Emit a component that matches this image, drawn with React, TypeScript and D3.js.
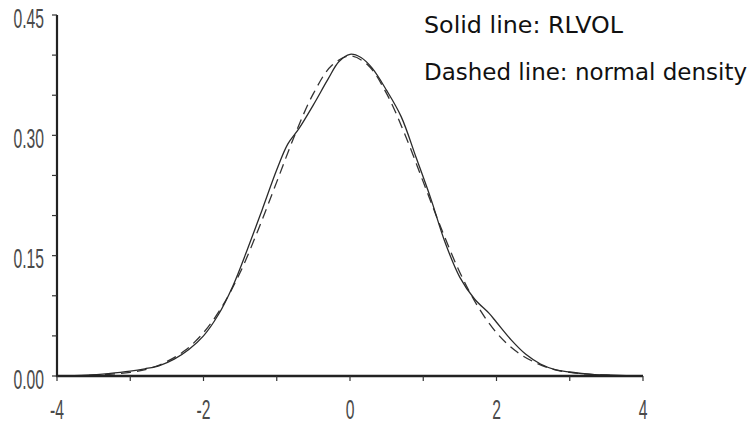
import React from "react";
import * as d3 from "d3";

// Estimated density of RLVOL (solid curve)
const rlvolX = [-4.0, -3.6, -3.3, -3.0, -2.8, -2.6, -2.4, -2.2, -2.0, -1.8, -1.6, -1.4, -1.2, -1.0, -0.85, -0.7, -0.5, -0.3, -0.15, 0.0, 0.15, 0.3, 0.5, 0.7, 0.9, 1.1, 1.3, 1.5, 1.7, 1.9, 2.0, 2.2, 2.4, 2.6, 2.8, 3.0, 3.3, 3.6, 4.0];
const rlvolY = [0.0, 0.001, 0.003, 0.006, 0.009, 0.013, 0.021, 0.033, 0.05, 0.076, 0.112, 0.158, 0.207, 0.257, 0.289, 0.308, 0.338, 0.37, 0.392, 0.401, 0.397, 0.384, 0.356, 0.323, 0.273, 0.222, 0.166, 0.123, 0.096, 0.078, 0.067, 0.045, 0.027, 0.015, 0.008, 0.005, 0.002, 0.001, 0.0];

// Normal density (dashed curve)
const normalX = [-4.0, -3.5, -3.0, -2.75, -2.5, -2.25, -2.0, -1.75, -1.5, -1.25, -1.0, -0.75, -0.5, -0.25, 0.0, 0.25, 0.5, 0.75, 1.0, 1.25, 1.5, 1.75, 2.0, 2.25, 2.5, 2.75, 3.0, 3.5, 4.0];
const normalY = [0.0001, 0.001, 0.0045, 0.009, 0.018, 0.032, 0.054, 0.086, 0.129, 0.183, 0.242, 0.301, 0.352, 0.387, 0.399, 0.387, 0.352, 0.301, 0.242, 0.183, 0.129, 0.086, 0.054, 0.032, 0.018, 0.009, 0.0045, 0.001, 0.0001];

// Axis ticks and labels
const xTicks = [-4, -3, -2, -1, 0, 1, 2, 3, 4];
const xLabels = [-4, -2, 0, 2, 4];
const yTicks = [0, 0.05, 0.1, 0.15, 0.2, 0.25, 0.3, 0.35, 0.4, 0.45];
const yLabels = [0, 0.15, 0.3, 0.45];

const legendLines = ["Solid line: RLVOL", "Dashed line: normal density"];

export default function App() {
  const width = 754;
  const height = 430;
  const x = d3.scaleLinear().domain([-4, 4]).range([57, 643]);
  const y = d3.scaleLinear().domain([0, 0.45]).range([376, 15]);

  const line = d3
    .line<[number, number]>()
    .x((d) => x(d[0]))
    .y((d) => y(d[1]))
    .curve(d3.curveCatmullRom.alpha(0.5));

  const solidPath = line(rlvolX.map((v, i) => [v, rlvolY[i]]) as [number, number][]) || "";
  const dashedPath = line(normalX.map((v, i) => [v, normalY[i]]) as [number, number][]) || "";

  const tickFont = "'Liberation Sans', Arial, sans-serif";
  const labelFill = "#4a4a4a";
  const legendFont = "'DejaVu Sans', Verdana, sans-serif";

  return (
    <svg
      width={width}
      height={height}
      viewBox={`0 0 ${width} ${height}`}
      style={{ position: "absolute", left: 0, top: 0, display: "block", background: "#fff" }}
    >
      <rect x={0} y={0} width={width} height={height} fill="#fff" />

      {/* curves */}
      <path d={dashedPath} fill="none" stroke="#333" strokeWidth={1.3} strokeDasharray="10,6" />
      <path d={solidPath} fill="none" stroke="#2a2a2a" strokeWidth={1.3} />

      {/* y axis */}
      <line x1={x(-4)} x2={x(-4)} y1={y(0.45)} y2={y(0) + 1} stroke="#222" strokeWidth={2.2} />
      {yTicks.map((t) => (
        <line key={"yt" + t} x1={x(-4) - 5} x2={x(-4)} y1={y(t)} y2={y(t)} stroke="#333" strokeWidth={1.2} />
      ))}
      {yLabels.map((t) => (
        <text
          key={"yl" + t}
          transform={`translate(44, ${y(t) + 12.5}) scale(0.56, 1)`}
          textAnchor="end"
          fontFamily={tickFont}
          fontSize={28}
          fill={labelFill}
        >
          {t.toFixed(2)}
        </text>
      ))}

      {/* x axis */}
      <line x1={x(-4) - 1} x2={x(4)} y1={y(0)} y2={y(0)} stroke="#222" strokeWidth={2.5} />
      {xTicks.map((t) => (
        <line key={"xt" + t} x1={x(t)} x2={x(t)} y1={y(0)} y2={y(0) + 5} stroke="#333" strokeWidth={1.2} />
      ))}
      {xLabels.map((t) => (
        <text
          key={"xl" + t}
          transform={`translate(${x(t)}, 419) scale(0.56, 1)`}
          textAnchor="middle"
          fontFamily={tickFont}
          fontSize={28}
          fill={labelFill}
        >
          {t < 0 ? "-" + Math.abs(t) : String(t)}
        </text>
      ))}

      {/* legend text */}
      <text
        x={424}
        y={33}
        fontFamily={legendFont}
        fontSize={23}
        fill="#111"
        textLength={199}
        lengthAdjust="spacingAndGlyphs"
      >
        {legendLines[0]}
      </text>
      <text
        x={424}
        y={80}
        fontFamily={legendFont}
        fontSize={23}
        fill="#111"
        textLength={323}
        lengthAdjust="spacingAndGlyphs"
      >
        {legendLines[1]}
      </text>
    </svg>
  );
}
